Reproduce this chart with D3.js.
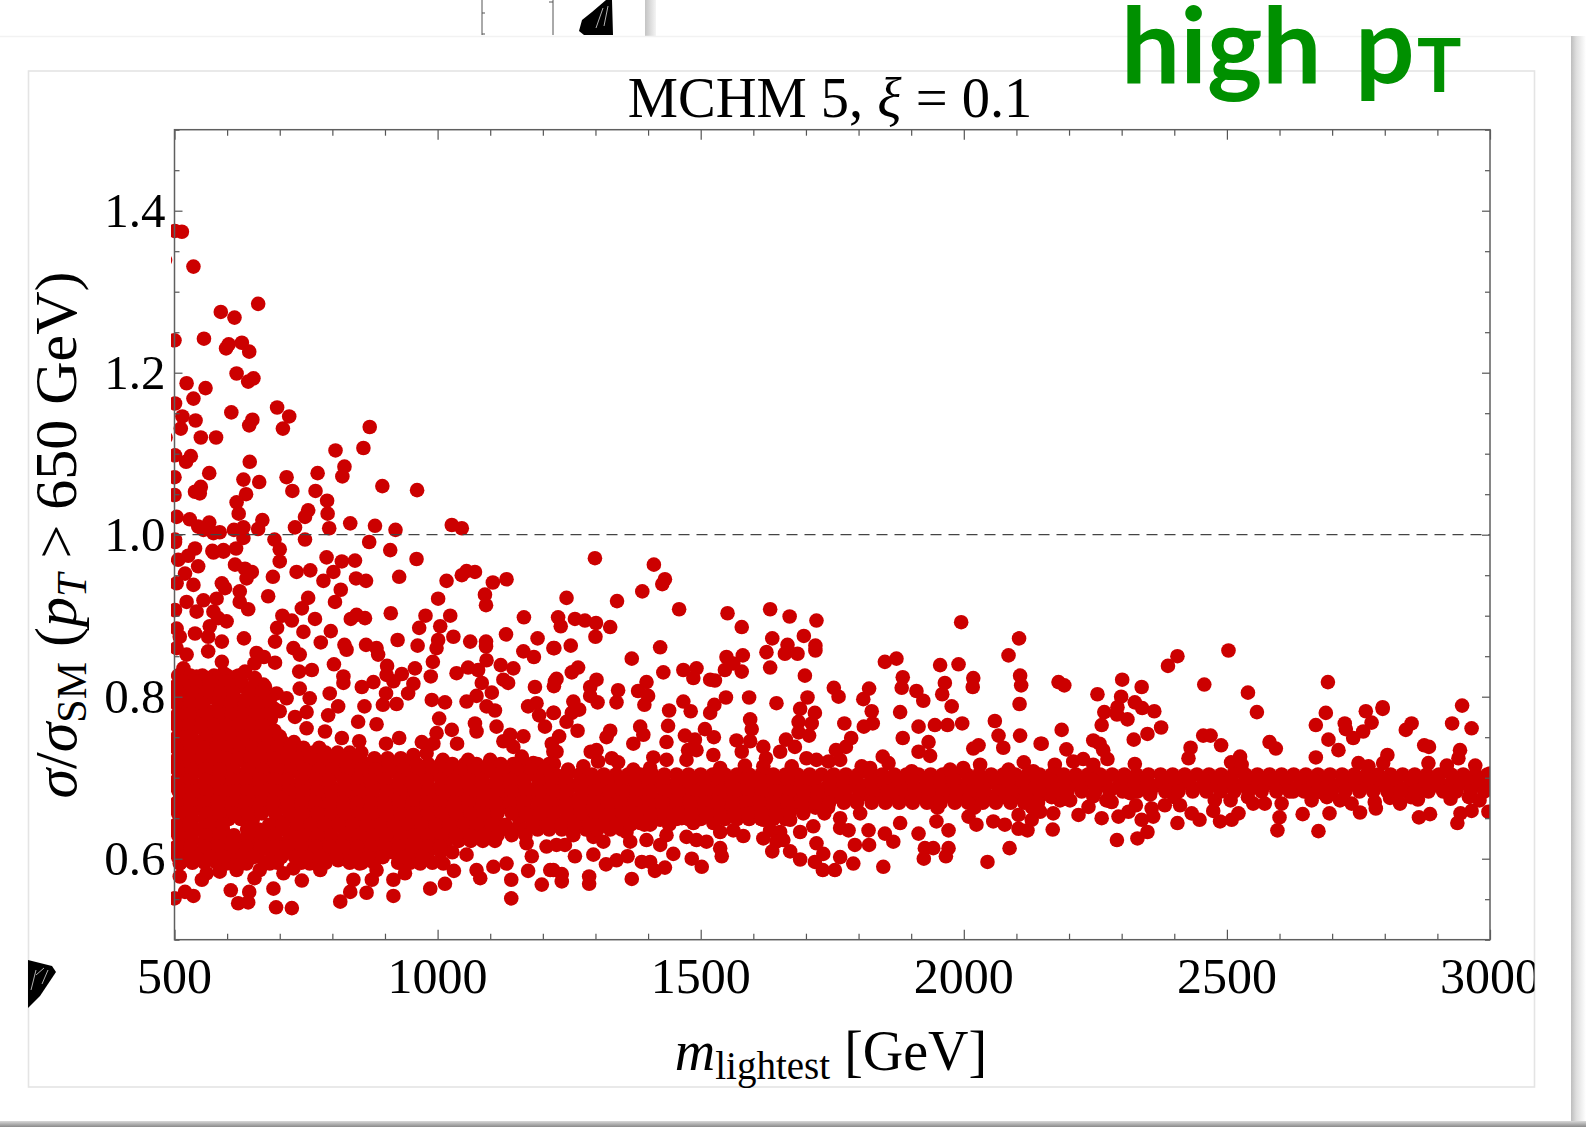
<!DOCTYPE html>
<html><head><meta charset="utf-8"><script src="https://cdn.jsdelivr.net/npm/d3@7"></script>
<style>html,body{margin:0;background:#fff}svg{display:block}text{font-family:"Liberation Serif",serif;fill:#000}</style></head><body><div id="c"></div>
<script>
const xTicksMajor=[500,1000,1500,2000,2500,3000];
const xTicksMinor=[600,700,800,900,1100,1200,1300,1400,1600,1700,1800,1900,2100,2200,2300,2400,2600,2700,2800,2900];
const yTicksMajor=[0.6,0.8,1.0,1.2,1.4];
const yTicksMinor=[0.5,0.55,0.65,0.7,0.75,0.85,0.9,0.95,1.05,1.1,1.15,1.25,1.3,1.35,1.45,1.5];
const referenceRatio=[1.0];
const lowMassPoints=[[482,1.339],[483,1.12],[501,1.375],[514,1.374],[536,1.331],[588,1.275],[614,1.268],[659,1.285],[500,1.24],[556,1.242],[598,1.23],[603,1.235],[628,1.237],[642,1.226],[618,1.199],[640,1.189],[650,1.193],[523,1.187],[559,1.181],[536,1.168],[501,1.162],[515,1.146],[540,1.141],[512,1.131],[608,1.151],[642,1.135],[648,1.142],[695,1.157],[718,1.146],[706,1.131],[871,1.133],[550,1.12],[579,1.12],[806,1.104],[859,1.107],[501,1.098],[522,1.09],[531,1.097],[643,1.09],[566,1.076],[500,1.071],[713,1.071],[772,1.076],[823,1.084],[819,1.072],[631,1.068],[661,1.065],[895,1.06],[961,1.055],[539,1.053],[550,1.059],[548,1.051],[724,1.054],[768,1.054],[500,1.049],[636,1.05],[618,1.04],[790,1.042],[622,1.026],[791,1.026],[754,1.03],[748,1.022],[504,1.022],[529,1.019],[545,1.01],[566,1.015],[834,1.014],[881,1.011],[1027,1.012],[1046,1.008],[920,1.006],[667,1.018],[659,1.007],[729,1.009],[794,1.008],[631,1.009],[613,1.006],[586,1.003],[574,1.002],[555,1.006],[631,.996],[690,.994],[748,.994],[870,.991],[501,.994],[910,.981],[700,.982],[539,.983],[572,.98],[593,.981],[617,.983],[501,.991],[526,.974],[507,.969],[574,.978],[593,.979],[545,.961],[520,.952],[504,.94],[536,.938],[590,.94],[596,.934],[615,.963],[634,.958],[647,.954],[637,.946],[624,.93],[624,.917],[640,.908],[580,.921],[555,.919],[542,.905],[523,.917],[501,.907],[574,.905],[583,.897],[599,.893],[567,.887],[504,.884],[510,.874],[539,.878],[564,.874],[590,.868],[564,.856],[523,.852],[517,.835],[590,.843],[634,.831],[653,.823],[669,.815],[542,.825],[561,.823],[504,.812],[618,.825],[593,.829],[504,.86]];
const midUpperPoints=[[700,.967],[960,.97],[789,.972],[818,.967],[843,.968],[802,.954],[732,.954],[758,.956],[783,.943],[687,.948],[927,.948],[1017,.943],[1046,.95],[1071,.954],[1055,.955],[1131,.945],[1105,.941],[1090,.926],[1092,.913],[845,.946],[864,.943],[816,.932],[678,.924],[754,.922],[805,.917],[1001,.921],[742,.909],[767,.896],[723,.894],[705,.9],[695,.885],[745,.88],[797,.881],[778,.867],[691,.868],[632,.872],[835,.896],[846,.901],[862,.897],[911,.903],[977,.9],[965,.885],[1024,.9],[1005,.887],[1030,.874],[1001,.87],[998,.86],[1164,.898],[1130,.877],[1190,.872],[1062,.868],[1092,.868],[1092,.862],[924,.87],[962,.863],[823,.864],[827,.858],[864,.864],[884,.86],[887,.852],[726,.86],[738,.852],[656,.854],[670,.849],[691,.842],[652,.841],[803,.84],[1093,.845],[1163,.856],[1183,.849],[1220,.86],[991,.843],[987,.825],[957,.835],[904,.838],[932,.828],[916,.819],[903,.827],[1120,.839],[1144,.835],[1058,.836],[1036,.829],[1077,.833],[1125,.821],[1134,.817],[1185,.812],[1223,.819],[1084,.817],[1103,.805],[821,.825],[821,.817],[761,.833],[737,.831],[856,.812],[878,.818],[954,.816],[944,.804],[902,.804],[896,.79],[922,.791],[989,.796],[1014,.793],[1055,.794],[1074,.801],[1093,.788],[1109,.783],[1172,.788],[1188,.792],[1193,.777],[1220,.78],[738,.81],[757,.798],[795,.804],[811,.788],[751,.781],[792,.777],[861,.788],[849,.769],[884,.766],[1003,.773],[1071,.767],[1074,.757],[1112,.763],[1204,.763],[1027,.759],[998,.755],[1037,.742],[1138,.753],[1163,.751],[1125,.745],[1144,.738],[927,.749],[902,.742],[851,.745],[970,.744],[992,.742],[979,.73],[1217,.742],[1226,.732],[786,.757],[818,.749],[751,.761],[694,.804],[713,.798],[681,.796],[729,.775],[700,.782],[1010,.722],[1100,.722],[1160,.726],[1058,.722],[954,.728],[1182,.718]];
const lowerLeftPoints=[[510,.578],[552,.574],[536,.554],[520,.559],[500,.551],[607,.561],[621,.545],[642,.559],[640,.546],[693,.54],[723,.539],[688,.563],[652,.576],[707,.582],[742,.573],[777,.586],[815,.547],[811,.598],[840,.574],[834,.559],[865,.558],[916,.554],[875,.574],[916,.574],[938,.582],[986,.563],[1014,.569],[1031,.585],[1081,.576],[1140,.551],[1140,.574],[1172,.585],[1198,.568],[1214,.586],[1106,.59],[1131,.594],[1055,.605],[1169,.619],[1179,.603],[1207,.615],[561,.582],[586,.584],[618,.586],[662,.586],[726,.588],[599,.594],[637,.594],[681,.594],[757,.594],[852,.594],[884,.586],[967,.594],[1011,.594],[1074,.586],[510,.594]];
const midBandUpperPoints=[[1299,.971],[1411,.963],[1432,.945],[1427,.939],[1245,.922],[1389,.93],[1341,.918],[1459,.908],[1551,.903],[1632,.908],[1669,.899],[1720,.894],[1578,.886],[1995,.892],[2105,.872],[1229,.898],[1234,.887],[1261,.896],[1280,.894],[1301,.891],[1328,.886],[1300,.874],[1636,.872],[1696,.875],[1253,.863],[1222,.86],[1423,.861],[1665,.864],[1625,.855],[1660,.853],[1684,.853],[1718,.863],[1718,.857],[2085,.851],[1369,.847],[1549,.849],[1580,.851],[1632,.836],[1546,.833],[1578,.831],[1562,.841],[1850,.843],[1872,.847],[1955,.839],[1990,.84],[1267,.836],[1255,.83],[1429,.83],[1467,.833],[1492,.835],[1486,.823],[1518,.821],[1527,.82],[1698,.826],[1884,.824],[1882,.811],[2107,.826],[2109,.814],[2018,.823],[2017,.812],[1226,.822],[1221,.813],[1302,.821],[1290,.812],[1343,.808],[1397,.818],[1381,.807],[1400,.801],[1753,.811],[1762,.8],[1820,.81],[1809,.797],[1910,.807],[1923,.795],[1964,.817],[1959,.803],[1290,.801],[1304,.793],[1340,.793],[1258,.794],[1393,.79],[1548,.799],[1592,.799],[1644,.792],[1703,.799],[1977,.788],[2106,.791],[1467,.794],[1526,.79],[1518,.78],[1440,.783],[1481,.782],[1689,.785],[1717,.78],[1825,.782],[1269,.784],[1221,.78],[1255,.78],[1245,.769],[1594,.772],[1686,.769],[1711,.767],[1773,.767],[1879,.781],[1827,.767],[1810,.763],[2059,.77],[1997,.767],[1914,.763],[1945,.765],[1969,.765],[1438,.764],[1266,.758],[1508,.76],[1525,.75],[1597,.76],[1328,.758],[1321,.75],[1385,.763],[1391,.753],[1372,.742],[1231,.751],[1686,.756],[1706,.752],[1470,.752],[1489,.747],[2066,.752],[2107,.752],[1435,.744],[1884,.749],[1786,.749],[1933,.744],[1914,.732],[2146,.742],[2075,.737],[2028,.74],[2018,.736],[1757,.734],[1776,.738],[1568,.746],[1594,.745],[1619,.738],[1662,.747],[1679,.738],[1651,.732],[1476,.734],[1492,.734],[1578,.732],[1291,.732],[1302,.734],[1331,.724],[1343,.719],[1305,.72],[1220,.732],[1410,.725],[1435,.722],[1473,.722],[1524,.728],[1624,.724],[1701,.724],[1720,.722],[1743,.72],[1765,.722],[1846,.726],[1857,.718],[1936,.727],[2031,.716],[2114,.719],[1221,.717],[1248,.71],[1277,.714],[1372,.71],[1404,.712],[1584,.715],[1619,.714],[1673,.714],[1537,.712],[1806,.714],[1822,.712],[1999,.712],[1974,.71],[1901,.708],[2085,.71],[2132,.708]];
const midBandLowerPoints=[[1464,.65],[1486,.644],[1524,.644],[1537,.633],[1581,.628],[1562,.635],[1619,.648],[1632,.635],[1651,.633],[1670,.648],[1689,.633],[1714,.64],[1765,.65],[1803,.656],[1765,.638],[1781,.635],[1819,.635],[1850,.631],[1866,.621],[1879,.644],[1914,.631],[1948,.646],[1971,.635],[2009,.652],[2024,.642],[2056,.646],[2078,.642],[2104,.654],[2104,.637],[2121,.635],[2129,.648],[1793,.617],[1820,.617],[1926,.613],[1942,.613],[1971,.613],[1924,.6],[1966,.603],[2087,.613],[2045,.596],[1790,.594],[1847,.59],[1765,.602],[1755,.586],[1732,.586],[1733,.606],[1717,.596],[1720,.619],[1689,.599],[1670,.609],[1636,.609],[1619,.625],[1644,.621],[1540,.603],[1537,.613],[1511,.621],[1502,.59],[1483,.6],[1448,.606],[1473,.627],[1432,.589],[1413,.585],[1404,.596],[1388,.596],[1361,.603],[1340,.598],[1320,.593],[1296,.605],[1261,.603],[1226,.617],[1242,.617],[1220,.586],[1236,.581],[1236,.572],[1288,.578],[1288,.569],[1369,.575],[1423,.617],[1435,.629],[1397,.623],[1359,.633],[1385,.644],[1366,.621],[1315,.621],[1296,.627],[1258,.629],[1324,.64],[1277,.644],[1245,.64],[1423,.648],[1404,.642],[1492,.623],[1657,.623]];
const highUpperPoints=[[2503,.857],[2406,.85],[2388,.838],[2692,.818],[2180,.818],[2191,.814],[2457,.815],[2301,.821],[2338,.812],[2254,.803],[2299,.8],[2540,.805],[2325,.793],[2339,.786],[2362,.782],[2292,.787],[2267,.781],[2291,.778],[2311,.772],[2557,.781],[2688,.78],[2947,.789],[2796,.787],[2796,.785],[2764,.782],[2262,.765],[2669,.765],[2724,.767],[2726,.76],[2775,.768],[2759,.757],[2375,.762],[2851,.767],[2840,.759],[2928,.767],[2965,.761],[2186,.759],[2740,.749],[2693,.747],[2349,.754],[2323,.747],[2455,.752],[2469,.752],[2489,.74],[2148,.742],[2246,.746],[2258,.742],[2195,.735],[2265,.734],[2273,.723],[2431,.737],[2427,.724],[2581,.744],[2593,.736],[2712,.734],[2875,.74],[2884,.738],[2943,.734],[2940,.724],[2805,.728],[2669,.725],[2525,.726],[2508,.719],[2528,.716],[2325,.717],[2173,.716],[2208,.72],[2227,.723],[2246,.716],[2750,.718],[2769,.714],[2797,.718],[2883,.718],[2918,.715],[2972,.715],[3000,.705]];
const highLowerPoints=[[2170,.656],[2145,.658],[2169,.636],[2218,.654],[2237,.664],[2262,.65],[2281,.67],[2294,.652],[2313,.658],[2327,.666],[2357,.662],[2360,.652],[2338,.648],[2349,.633],[2330,.625],[2291,.623],[2382,.666],[2411,.666],[2406,.644],[2433,.656],[2448,.648],[2477,.672],[2474,.659],[2487,.646],[2509,.648],[2522,.656],[2507,.672],[2550,.668],[2572,.668],[2604,.668],[2600,.651],[2596,.635],[2644,.655],[2661,.672],[2683,.681],[2695,.656],[2674,.634],[2715,.672],[2737,.668],[2753,.657],[2783,.662],[2781,.67],[2810,.675],[2829,.668],[2863,.673],[2865,.651],[2886,.655],[2925,.674],[2944,.656],[2938,.644],[2965,.659],[2980,.672],[2997,.658],[2626,.683],[2271,.672],[2246,.677],[2316,.681],[2202,.672],[2183,.672],[2354,.679]];
const bandRatios=[.826,.812,.799,.785,.772,.758,.744,.731,.717,.704,.69,.676,.663,.649,.636,.622,.608,.595];
const bandMasses=[
[507,530,553,575,600,622],
[500,519,541,565,588,610,633,652,672],
[500,524,547,569,592,614,638,660,682],
[511,535,558,581,603,626,649,670,690],
[500,523,546,570,592,615,637,660,683],
[512,534,557,580,604,626,649,672,690],
[500,523,545,569,592,615,638,660,683,706,727],
[511,534,557,580,603,626,649,672,695,718,741,764,787,810,833,855],
[500,522,546,568,592,614,638,660,684,706,730,752,776,798,822,844,868,890,914,936,960,982,1006,1028,1052,1074,1098,1120,1144,1166,1190,1212],
[511,534,557,580,603,626,649,672,695,718,741,764,787,810,833,856,879,902,925,948,971,994,1017,1040,1063,1086,1109,1132,1155,1178,1201,1224,1247,1270,1293,1316,1339,1362,1385,1408,1431,1454,1477,1500,1523,1546,1569,1592,1615,1638,1661,1684,1707,1730,1753,1776,1799,1822,1845,1868,1891,1914,1937,1960,1983,2006,2029,2052,2075,2098,2121,2144,2167,2190,2213,2236,2259,2282,2305,2328,2351,2374,2397,2420,2443,2466,2489,2512,2535,2558,2581,2604,2627,2650,2673,2696,2719,2742,2765,2788,2811,2834,2857,2880,2903,2926,2949,2972,2995],
[500,522,546,568,592,614,638,660,684,706,730,752,776,798,822,844,868,890,914,936,960,982,1006,1028,1052,1074,1098,1120,1144,1166,1190,1212,1236,1258,1282,1304,1328,1350,1374,1396,1420,1442,1466,1488,1512,1534,1558,1580,1604,1626,1650,1672,1696,1718,1742,1764,1788,1810,1834,1856,1880,1902,1926,1948,1972,1994,2018,2040,2064,2086,2110,2132,2156,2178,2202,2224,2248,2270,2294,2316,2340,2362,2386,2408,2432,2454,2478,2500,2524,2546,2570,2592,2616,2638,2662,2684,2708,2730,2754,2776,2800,2822,2846,2868,2892,2914,2938,2960,2984,3000],
[511,534,557,580,603,626,649,672,695,718,741,764,787,810,833,856,879,902,925,948,971,994,1017,1040,1063,1086,1109,1132,1155,1178,1201,1224,1247,1270,1293,1316,1339,1362,1385,1408,1431,1454,1477,1500,1523,1546,1569,1592,1615,1638,1661,1684,1707,1730,1753,1776,1799,1822,1845,1868,1891,1914,1937,1960,1983,2006,2029,2052,2075,2098,2121,2144,2167,2190,2400,2540,2690,2850,2960],
[500,522,546,568,592,614,638,660,684,706,730,752,776,798,822,844,868,890,914,936,960,982,1006,1028,1052,1074,1098,1120,1144,1166,1190,1212,1236,1258,1282,1304,1328,1350,1374,1396,1420,1442,1466,1488,1512,1534,1558,1580,1604,1626,1650,1672,1696,1718,1742,1950,2020,2130],
[511,534,557,580,603,626,649,695,718,741,764,787,810,833,856,879,902,925,948,971,994,1017,1040,1063,1086,1109,1155,1178,1201,1224,1247,1270,1293,1316,1339,1362,1385,1408,1431,1454,1477,1500,1523,1546,1569,1592,1615,1638,1661],
[500,522,546,568,592,638,660,684,706,730,752,776,798,822,844,868,890,914,936,960,982,1006,1028,1052,1074,1098,1120,1144,1166,1190,1212,1236,1258,1282,1304,1328,1350],
[511,534,557,580,603,626,649,672,695,718,741,764,787,810,833,856,879,902,925,948,971,994,1017,1040,1063,1086,1109],
[500,522,546,568,592,614,638,660,684,706,730,752,776,798,822,844,868,890,914,936,960,982,1006,1028],
[511,534,557,580,603,626,672,695,741,764,787,833,856,879,925,948,990]
];
const fillRatios=[.819,.805,.792,.778,.765,.751,.737,.724,.71,.697,.683,.669,.656,.642,.629,.615,.602];
const fillMasses=[
[516,541,566,598,627],
[509,536,559,587,612,643,668],
[503,530,552,584,607,635,655,679],
[506,528,561,586,609,631,654,677],
[503,529,552,575,598,621,644,667],
[506,528,563,586,610,632,655,678,700],
[503,534,557,580,603,626,649,672,695,720,745,775],
[506,529,552,575,598,621,644,667,690,713,736,759,782,805,828,851,880,905,930],
[505,533,559,586,612,641,667,694,720,748,775,801,829,855,882,908,936,963,990,1016,1044,1070,1097,1125,1151,1178,1204],
[505,531,558,583,611,636,662,690,715,742,769,794,822,848,873,901,927,953,980,1007,1032,1060,1085,1112,1139,1164,1192,1218,1243,1271,1297,1322,1350,1375,1402,1429,1455,1480,1508,1534,1559,1587,1613,1638,1666,1692,1717,1745,1771,1796,1824,1850,1875,1903,1929,1954,1982,2008,2033,2061,2087,2112,2140,2166,2191,2219,2245,2270,2298,2324,2349,2377,2403,2428,2456,2482,2507,2535,2561,2586,2614,2640,2665,2693,2719,2744,2772,2798,2823,2851,2877,2902,2930,2956,2981],
[508,535,561,588,613,640,666,693,718,746,771,799,824,851,877,904,930,957,982,1010,1035,1063,1088,1115,1141,1168,1194,1221,1246,1274,1299,1327,1352,1379,1405,1432,1458,1485,1510,1538,1563,1591,1616,1643,1669,1696,1722,1749,1774,1802,1827,1855,1880,1907,1933,1960,1986,2013,2038,2066,2091,2119,2144,2171,2197,2224,2250,2277,2302,2330,2355,2383,2408,2435,2461,2488,2514,2541,2566,2594,2619,2647,2672,2699,2725,2752,2778,2805,2830,2858,2883,2911,2936,2963,2989],
[504,530,557,583,610,636,663,688,716,741,769,795,821,847,874,900,927,952,980,1005,1033,1059,1085,1111,1138,1164,1191,1216,1244,1269,1297,1323,1349,1375,1402,1428,1455,1480,1508,1533,1561,1587,1613,1639,1666,1692,1719,1744,1772,1797,1825,1851,1877,1903,1930,1956,1983,2008,2036,2061,2089,2115,2141],
[507,533,560,586,613,639,666,691,719,744,772,798,824,850,877,903,930,955,983,1008,1036,1062,1088,1114,1141,1167,1194,1219,1247,1272,1300,1326,1352,1378,1405,1431,1458,1483,1511,1536,1564,1590,1616,1642,1669,1695,1735],
[503,529,566,592,680,706,733,758,786,811,839,865,891,917,944,970,997,1022,1050,1075,1103,1129,1182,1208,1235,1260,1288,1313,1341,1367,1393,1440],
[507,533,560,586,613,639,666,691,719,744,772,798,824,850,877,903,930,955,983,1008,1036,1062,1088,1114,1141,1167],
[504,530,557,583,610,636,663,688,716,741,769,795,821,847,874,900,927,952,980,1005],
[507,541,568,594,631,650,703,729,752,776,808,845,868,896,938,972]
];
const titleParts=["MCHM 5, ","ξ"," = 0.1"];
const badgeParts=["high","p","T"];

const W=1586,H=1127;
const x=d3.scaleLinear().domain([500,3000]).range([174.5,1490]);
const y=d3.scaleLinear().domain([0.5,1.5]).range([939.7,129.7]);
const svg=d3.select("#c").append("svg").attr("width",W).attr("height",H);
const defs=svg.append("defs");
function grad(id,x2,y2,stops){const g=defs.append("linearGradient").attr("id",id).attr("x1",0).attr("y1",0).attr("x2",x2).attr("y2",y2);stops.forEach(s=>g.append("stop").attr("offset",s[0]).attr("stop-color",s[1]));}
grad("gr",1,0,[[0,"#bdbdbd"],[.35,"#dedede"],[1,"#ffffff"]]);
grad("gt",1,0,[[0,"#c4c4c4"],[1,"#f4f4f4"]]);
grad("gb",0,1,[[0,"#d8d8d8"],[1,"#8a8a8a"]]);
defs.append("clipPath").attr("id","plot").append("rect").attr("x",171).attr("y",129.7).attr("width",1319).attr("height",810);
defs.append("clipPath").attr("id","frame").append("rect").attr("x",0).attr("y",0).attr("width",1534.5).attr("height",H);

// page fragments around the slide panel
svg.append("rect").attr("x",645).attr("y",0).attr("width",11).attr("height",36).attr("fill","url(#gt)");
svg.append("path").attr("d","M482,0V35M553,0V35M482,13h3M482,34h3M553,2h-4").attr("stroke","#555").attr("fill","none");
svg.append("path").attr("d","M606,0L612,0L613,35L584,35L579,31L582,20L592,12Z").attr("fill","#000");
svg.append("path").attr("d","M596,28L603,8M604,26L608,6").attr("stroke","#fff").attr("stroke-width",.7);
svg.append("rect").attr("x",1571).attr("y",36).attr("width",15).attr("height",1085).attr("fill","url(#gr)");
svg.append("rect").attr("x",0).attr("y",1121).attr("width",W).attr("height",6).attr("fill","url(#gb)");
svg.append("rect").attr("x",0).attr("y",36).attr("width",1571).attr("height",1085).attr("fill","#fff");
svg.append("path").attr("d","M0,36.5H1571").attr("stroke","#f2f2f2").attr("stroke-width",1.5);
svg.append("rect").attr("x",28.5).attr("y",71).attr("width",1506).attr("height",1016).attr("fill","none").attr("stroke","#e4e4e4").attr("stroke-width",1.6);
svg.append("path").attr("d","M28,960L52,966L56,972L40,996L28,1008Z").attr("fill","#000");
svg.append("path").attr("d","M31,990L36,970M42,984L48,970M36,975L44,968").attr("stroke","#fff").attr("stroke-width",.7);

// points
const allPoints=[...lowMassPoints,...midUpperPoints,...lowerLeftPoints,...midBandUpperPoints,...midBandLowerPoints,...highUpperPoints,...highLowerPoints];
bandRatios.forEach((r,i)=>bandMasses[i].forEach(m=>allPoints.push([m,r])));
fillRatios.forEach((r,i)=>fillMasses[i].forEach(m=>allPoints.push([m,r])));
svg.append("g").attr("clip-path","url(#plot)").selectAll("circle").data(allPoints).join("circle")
 .attr("cx",d=>x(d[0])).attr("cy",d=>y(d[1])).attr("r",7.3).attr("fill","#cc0000");

// reference line
svg.append("g").selectAll("line").data(referenceRatio).join("line")
 .attr("x1",x.range()[0]).attr("x2",x.range()[1]).attr("y1",d=>y(d)).attr("y2",d=>y(d))
 .attr("stroke","#444").attr("stroke-width",1.3).attr("stroke-dasharray","11 7");

// frame and ticks
function axis(gen,t,vals,size){const g=svg.append("g").attr("transform",t).call(gen.tickValues(vals).tickSize(size).tickFormat(""));
 g.selectAll(".domain").remove();g.selectAll("line").attr("stroke","#555").attr("stroke-width",1.2);g.selectAll("text").remove();}
axis(d3.axisBottom(x),`translate(0,${y(0.5)})`,xTicksMajor,-10);
axis(d3.axisBottom(x),`translate(0,${y(0.5)})`,xTicksMinor,-6);
axis(d3.axisTop(x),`translate(0,${y(1.5)})`,xTicksMajor,-10);
axis(d3.axisTop(x),`translate(0,${y(1.5)})`,xTicksMinor,-6);
axis(d3.axisLeft(y),`translate(${x(500)},0)`,yTicksMajor,-8);
axis(d3.axisLeft(y),`translate(${x(500)},0)`,yTicksMinor,-5);
axis(d3.axisRight(y),`translate(${x(3000)},0)`,yTicksMajor,-8);
axis(d3.axisRight(y),`translate(${x(3000)},0)`,yTicksMinor,-5);
svg.append("rect").attr("x",x(500)).attr("y",y(1.5)).attr("width",x(3000)-x(500)).attr("height",y(.5)-y(1.5)).attr("fill","none").attr("stroke","#5f5f5f").attr("stroke-width",1.5);

// tick labels
svg.append("g").attr("clip-path","url(#frame)").selectAll("text").data(xTicksMajor).join("text")
 .attr("x",d=>x(d)).attr("y",992.5).attr("text-anchor","middle").attr("font-size",50).text(d=>d);
svg.append("g").selectAll("text").data(yTicksMajor).join("text")
 .attr("x",165.5).attr("y",d=>y(d)+16).attr("text-anchor","end").attr("font-size",49).text(d=>d.toFixed(1));

// title
const tt=svg.append("text").attr("x",830).attr("y",117).attr("text-anchor","middle").attr("font-size",56.5);
tt.append("tspan").text(titleParts[0]);tt.append("tspan").attr("font-style","italic").text(titleParts[1]);tt.append("tspan").text(titleParts[2]);
// x label
const xl=svg.append("text").attr("x",831).attr("y",1070).attr("text-anchor","middle").attr("font-size",56);
xl.append("tspan").attr("font-style","italic").text("m");
xl.append("tspan").attr("font-size",39).attr("dy",9).text("lightest");
xl.append("tspan").attr("dy",-9).text(" [GeV]");
// y label
const yl=svg.append("text").attr("transform","translate(76,535) rotate(-90)").attr("text-anchor","middle").attr("font-size",60);
yl.append("tspan").attr("font-style","italic").text("σ");
yl.append("tspan").text("/");
yl.append("tspan").attr("font-style","italic").text("σ");
yl.append("tspan").attr("font-size",42).attr("dy",10).text("SM");
yl.append("tspan").attr("dy",-10).text(" (");
yl.append("tspan").attr("font-style","italic").text("p");
yl.append("tspan").attr("font-style","italic").attr("font-size",42).attr("dy",10).text("T");
yl.append("tspan").attr("dy",-10).text(" > 650 GeV)");

// badge
const badge=svg.append("g").attr("font-weight",700);
badge.append("text").attr("x",1121).attr("y",83).attr("font-size",105).style("font-family","Lato").style("fill","#009000").text(badgeParts[0]);
badge.append("text").attr("x",1355).attr("y",83).attr("font-size",105).style("font-family","Lato").style("fill","#009000").text(badgeParts[1]);
badge.append("text").attr("x",1417).attr("y",92).attr("font-size",74).style("font-family","Lato").style("fill","#009000").text(badgeParts[2]);
</script></body></html>
